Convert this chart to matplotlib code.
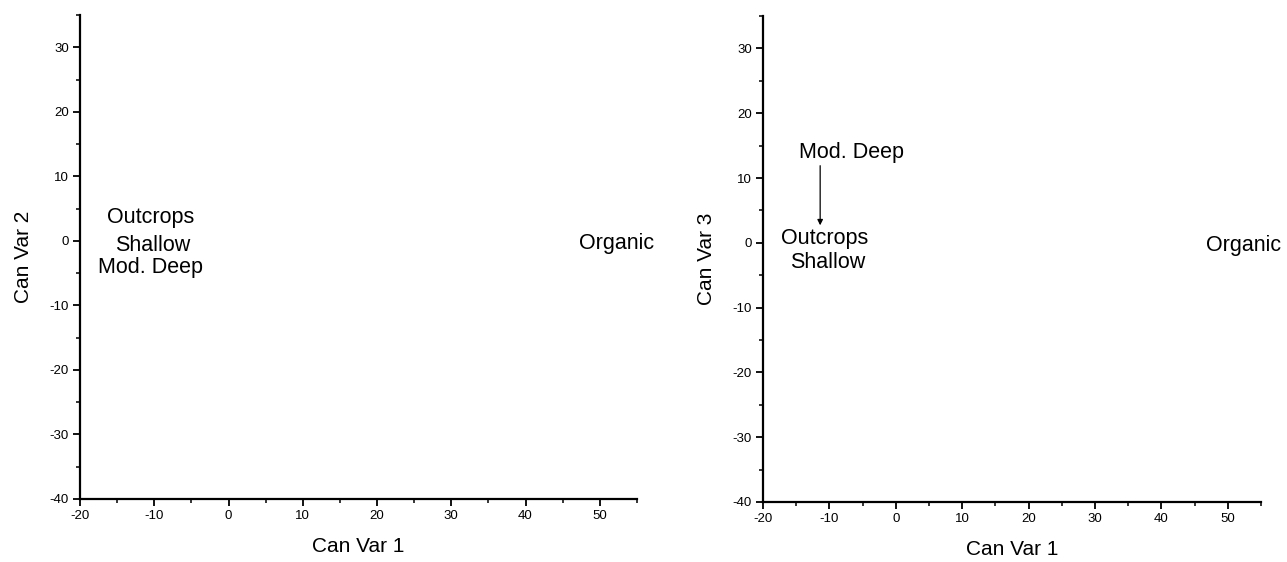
import matplotlib
matplotlib.use("Agg")
import matplotlib.pyplot as plt
from matplotlib.ticker import MultipleLocator

plt.rcParams['font.family'] = ['Liberation Sans', 'DejaVu Sans']
plt.rcParams['axes.unicode_minus'] = False

# Group label positions (canonical variable scores)
groups = ["Outcrops", "Shallow", "Mod. Deep", "Organic"]
cv1_left = [-10.5, -10.2, -10.5, 52.2]
cv2_left = [3.6, -0.7, -4.1, -0.4]
cv1_right = [-10.7, -10.3, -6.75, 52.3]
cv3_right = [0.7, -3.0, 13.9, -0.4]
# arrow for Mod. Deep on right plot: from label to point
arrow_from = (-11.4, 11.9)
arrow_to = (-11.4, 2.7)

xlim = (-20, 55)
ylim = (-40, 35)
xticks = [-20, -10, 0, 10, 20, 30, 40, 50]
yticks = [-40, -30, -20, -10, 0, 10, 20, 30]

fig = plt.figure(figsize=(12.87, 5.62), dpi=100)
axL = fig.add_axes([0.0622, 0.1121, 0.4327, 0.8612])
axR = fig.add_axes([0.5929, 0.1068, 0.3869, 0.8647])

def style(ax, ylabel):
    ax.set_xlim(*xlim)
    ax.set_ylim(*ylim)
    ax.set_xticks(xticks)
    ax.set_yticks(yticks)
    ax.xaxis.set_minor_locator(MultipleLocator(5))
    ax.yaxis.set_minor_locator(MultipleLocator(5))
    for s in ["top", "right"]:
        ax.spines[s].set_visible(False)
    for s in ["left", "bottom"]:
        ax.spines[s].set_linewidth(1.6)
    ax.tick_params(which="major", direction="out", length=5, width=1.3, labelsize=9.5, pad=3)
    ax.tick_params(which="minor", direction="out", length=3, width=1.1)
    ax.set_xlabel("Can Var 1", fontsize=15, labelpad=11)
    ax.set_ylabel(ylabel, fontsize=15, labelpad=12)

style(axL, "Can Var 2")
style(axR, "Can Var 3")

fs = 15.5
for name, x, y in zip(groups, cv1_left, cv2_left):
    axL.text(x, y, name, ha="center", va="center", fontsize=fs, clip_on=False)

for name, x, y in zip(groups, cv1_right, cv3_right):
    axR.text(x, y, name, ha="center", va="center", fontsize=fs, clip_on=False)

axR.annotate("", xy=arrow_to, xytext=arrow_from,
             arrowprops=dict(arrowstyle="-|>", lw=0.9, color="black",
                             mutation_scale=8, shrinkA=0, shrinkB=0))

fig.savefig("out.png", dpi=100)
